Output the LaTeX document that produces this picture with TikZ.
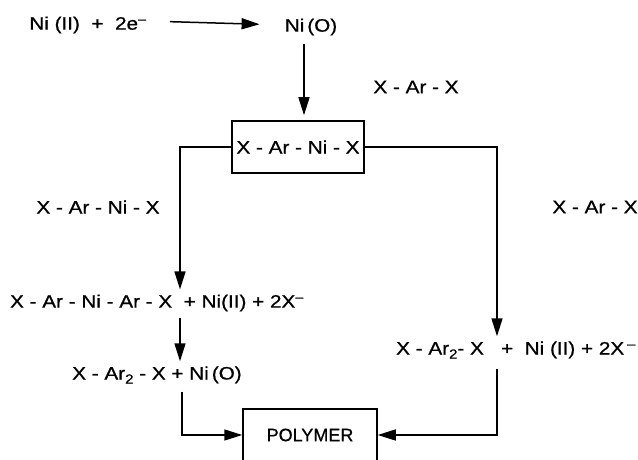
\documentclass[tikz,border=0pt]{standalone}
\usepackage{fontspec}
\setmainfont{Liberation Sans}
\newfontfamily\chemfont{Liberation Sans}[FakeStretch=1.15,FakeBold=0.8]
\newfontfamily\polyfont{Liberation Sans}[FakeBold=0.8]
\newcommand\subtwo{\raisebox{-4pt}{\fontsize{13}{13}\selectfont 2}}
\usetikzlibrary{arrows.meta}

\begin{document}
\begin{tikzpicture}[
x=1pt,y=-1pt,
species/.style={inner sep=0pt,font=\chemfont\fontsize{18}{20}\selectfont},
boxed/.style={draw,line width=1.5pt,inner sep=0pt,font=\chemfont\fontsize{18}{20}\selectfont,
minimum width=132pt,minimum height=52pt},
rxn/.style={-{Triangle[length=18pt,width=11pt]},line width=1.5pt}
]
\useasboundingbox (0,0) rectangle (638,460);
\node[species] (nii) at (88,25) {Ni (II) \ + \ 2e\textsuperscript{–}};
\node[species] (ni0) at (311,27) {Ni\,(O)};
\node[species] (xarx) at (416,87) {X - Ar - X};
\node[boxed] (arnix) at (298,147) {X - Ar - Ni - X};
\node[species] (xarnix) at (98,207) {X - Ar - Ni - X};
\node[species] (xarxr) at (595,207) {X - Ar - X};
\node[species] (diaryl) at (157,303) {X - Ar - Ni - Ar - X \ + Ni(II) + 2X\textsuperscript{–}};
\node[species] (dimerl) at (157,375) {X - Ar\subtwo{} - X + Ni\,(O)};
\node[species] (dimerr) at (516,350) {X - Ar\subtwo- X \ \ + \ Ni (II) + 2X\,\textsuperscript{–}};
\node[boxed,minimum width=134pt,font=\polyfont\fontsize{18}{20}\selectfont] (poly) at (310,435) {POLYMER};

\draw[rxn,shorten <=23pt,shorten >=25pt] ([yshift=4pt]nii.east) -- ([yshift=2pt]ni0.west);
\draw[rxn,shorten <=8pt,shorten >=5pt] ([xshift=-7pt]ni0.south) -- ([xshift=-7pt]ni0.south |- arnix.north);
\draw[rxn,shorten >=5pt] (arnix.west) -| ([xshift=23pt]diaryl.north);
\draw[rxn,shorten >=5pt] (arnix.east) -| ([xshift=-19pt]dimerr.north);
\draw[rxn,shorten <=6pt,shorten >=5pt] ([xshift=23pt]diaryl.south) -- ([xshift=23pt]diaryl.south |- dimerl.north);
\draw[rxn,shorten <=8pt] ([xshift=25pt]dimerl.south) |- (poly.west);
\draw[rxn,shorten <=10pt] ([xshift=-19pt]dimerr.south) |- (poly.east);
\end{tikzpicture}
\end{document}
